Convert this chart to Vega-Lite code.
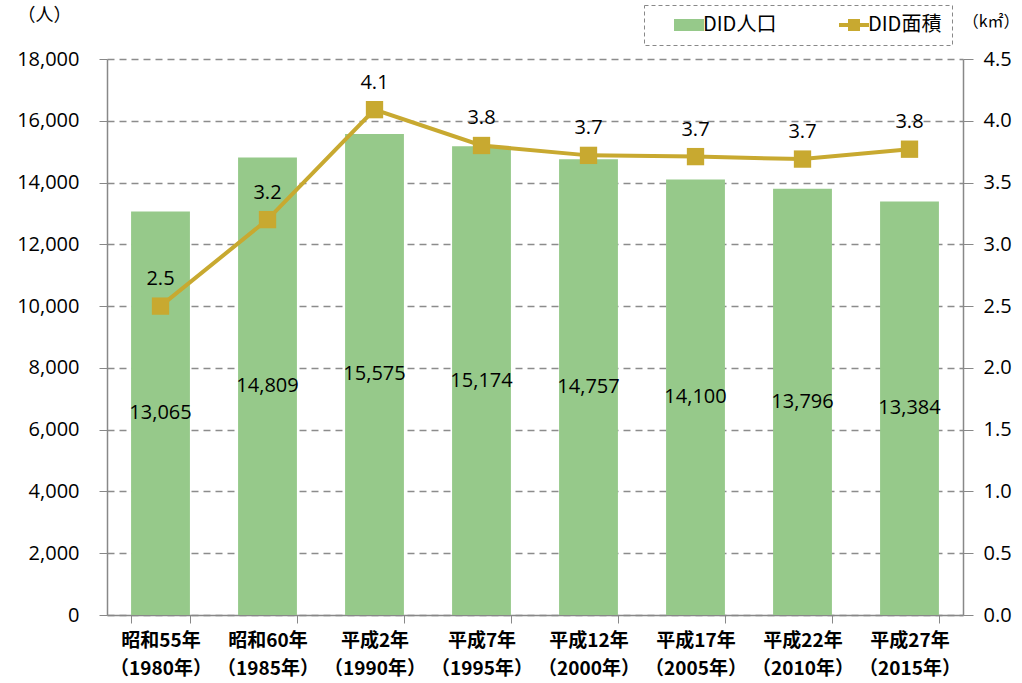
{
  "$schema": "https://vega.github.io/schema/vega-lite/v6.json",
  "autosize": {"type": "none"},
  "width": 856,
  "height": 556,
  "padding": {"left": 107, "top": 59, "right": 59, "bottom": 68},
  "background": "white",
  "config": {
    "font": "Noto Sans CJK JP",
    "view": {"stroke": null},
    "axis": {"labelFont": "Open Sans", "labelColor": "#000", "titleColor": "#000"}
  },
  "datasets": {
    "main": [
      {"period": "昭和55年（1980年）", "pop": 13065, "area": 2.5},
      {"period": "昭和60年（1985年）", "pop": 14809, "area": 3.2},
      {"period": "平成2年（1990年）", "pop": 15575, "area": 4.09},
      {"period": "平成7年（1995年）", "pop": 15174, "area": 3.8},
      {"period": "平成12年（2000年）", "pop": 14757, "area": 3.72},
      {"period": "平成17年（2005年）", "pop": 14100, "area": 3.71},
      {"period": "平成22年（2010年）", "pop": 13796, "area": 3.69},
      {"period": "平成27年（2015年）", "pop": 13384, "area": 3.77}
    ],
    "legend": [
      {"series": "DID人口"},
      {"series": "DID面積"}
    ]
  },
  "data": {"name": "main"},
  "layer": [
    {
      "layer": [
        {
          "mark": {"type": "bar", "color": "#96C98A"},
          "encoding": {
            "x": {
              "field": "period",
              "type": "nominal",
              "sort": null,
              "scale": {"paddingInner": 0.45, "paddingOuter": 0.225},
              "axis": {
                "title": null,
                "labelAngle": 0,
                "labelFont": "Noto Sans CJK JP",
                "labelFontWeight": "bold",
                "labelFontSize": 19,
                "labelLineHeight": 28,
                "labelPadding": 8,
                "labelExpr": "datum.value ? [split(datum.value,'（')[0], '（' + split(datum.value,'（')[1]] : ''",
                "domainColor": "#888",
                "domainWidth": 1.5,
                "tickColor": "#888",
                "tickBand": "extent",
                "tickSize": 8,
                "grid": false
              }
            },
            "y": {
              "field": "pop",
              "type": "quantitative",
              "scale": {"domain": [0, 18000]},
              "axis": {
                "title": "（人）",
                "titleAngle": 0,
                "titleX": -63,
                "titleY": -44,
                "titleAlign": "center",
                "titleBaseline": "middle",
                "titleFontSize": 18,
                "titleFontWeight": "normal",
                "values": [0, 2000, 4000, 6000, 8000, 10000, 12000, 14000, 16000, 18000],
                "format": ",d",
                "labelFontSize": 20,
                "labelPadding": 20,
                "tickSize": 8,
                "tickColor": "#888",
                "domainColor": "#888",
                "domainWidth": 1.5,
                "grid": true,
                "gridColor": "#8c8c8c",
                "gridDash": [7, 5],
                "gridWidth": 1.5
              }
            }
          }
        },
        {
          "transform": [{"calculate": "datum.pop / 2", "as": "mid"}],
          "mark": {"type": "text", "fontSize": 20, "font": "Open Sans", "color": "#000"},
          "encoding": {
            "x": {"field": "period", "type": "nominal", "sort": null},
            "y": {"field": "mid", "type": "quantitative"},
            "text": {"field": "pop", "type": "quantitative", "format": ",d"}
          }
        },
        {
          "data": {"name": "legend"},
          "mark": {"type": "point", "filled": true, "opacity": 0},
          "encoding": {
            "color": {
              "field": "series",
              "type": "nominal",
              "scale": {"domain": ["DID人口", "DID面積"], "range": ["#96C98A", "#C8A930"]},
              "legend": {
                "title": null,
                "orient": "none",
                "direction": "horizontal",
                "legendX": 537,
                "legendY": -54,
                "padding": 10,
                "columnPadding": 42,
                "symbolOffset": 25,
                "labelFont": "Noto Sans CJK JP",
                "labelFontSize": 20,
                "labelColor": "#000",
                "labelOffset": 4,
                "symbolSize": 400,
                "symbolOpacity": 1,
                "symbolStrokeWidth": 0,
                "strokeColor": "#888",
                "offset": 0,
                "encode": {"legend": {"update": {"strokeDash": {"value": [4, 3]}}}}
              }
            },
            "shape": {
              "field": "series",
              "type": "nominal",
              "scale": {
                "domain": ["DID人口", "DID面積"],
                "range": ["M-1.5,-0.6H1.5V0.6H-1.5Z", "M-1.5,-0.2H1.5V0.2H-1.5ZM-0.6,-0.6H0.6V0.6H-0.6Z"]
              },
              "legend": {
                "title": null,
                "orient": "none",
                "direction": "horizontal",
                "legendX": 537,
                "legendY": -54,
                "padding": 10,
                "columnPadding": 42,
                "symbolOffset": 25,
                "labelFont": "Noto Sans CJK JP",
                "labelFontSize": 20,
                "labelColor": "#000",
                "labelOffset": 4,
                "symbolSize": 400,
                "symbolOpacity": 1,
                "symbolStrokeWidth": 0,
                "strokeColor": "#888",
                "offset": 0,
                "encode": {"legend": {"update": {"strokeDash": {"value": [4, 3]}}}}
              }
            }
          }
        }
      ]
    },
    {
      "encoding": {
        "x": {"field": "period", "type": "nominal", "sort": null},
        "y": {
          "field": "area",
          "type": "quantitative",
          "scale": {"domain": [0, 4.5]},
          "axis": {
            "orient": "right",
            "title": "（k㎡）",
            "titleAngle": 0,
            "titleX": 56,
            "titleY": -38,
            "titleAlign": "right",
            "titleBaseline": "middle",
            "titleFontSize": 16,
            "titleFontWeight": "normal",
            "values": [0, 0.5, 1, 1.5, 2, 2.5, 3, 3.5, 4, 4.5],
            "format": ".1f",
            "labelFontSize": 20,
            "labelPadding": 10,
            "tickSize": 10,
            "tickColor": "#888",
            "domainColor": "#888",
            "domainWidth": 1.5,
            "grid": false
          }
        }
      },
      "layer": [
        {"mark": {"type": "line", "color": "#C8A930", "strokeWidth": 4}},
        {"mark": {"type": "square", "color": "#C8A930", "opacity": 1, "size": 300}},
        {
          "mark": {"type": "text", "fontSize": 20, "font": "Open Sans", "color": "#000", "dy": -27},
          "encoding": {"text": {"field": "area", "type": "quantitative", "format": ".1f"}}
        }
      ]
    }
  ],
  "resolve": {"scale": {"y": "independent"}}
}
